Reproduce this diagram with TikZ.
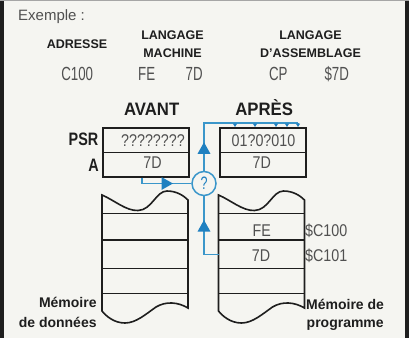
\documentclass[tikz,border=0pt]{standalone}
\usepackage{fontspec}
\setmainfont{Liberation Sans}
\newfontfamily\valfont{Liberation Sans}[FakeStretch=0.7]
\newfontfamily\regfont{Liberation Sans}[FakeStretch=0.84]
\newfontfamily\headfont{Liberation Sans}[FakeStretch=0.93]
\newfontfamily\namefont{Liberation Sans}[FakeStretch=0.8]
\usetikzlibrary{arrows.meta,decorations.markings}

\definecolor{paper}{HTML}{F5F5F1}
\definecolor{ink}{HTML}{1E1E1E}
\definecolor{greyink}{HTML}{505050}
\definecolor{wire}{HTML}{3A96CA}
\definecolor{tipblue}{HTML}{1F80C0}

\tikzset{
  hdr/.style={font=\bfseries\fontsize{12.5}{18}\selectfont, text=ink, inner sep=0, align=center},
  val/.style={font=\valfont\fontsize{19}{20}\selectfont, text=greyink, inner sep=0, anchor=base},
  reg/.style={font=\regfont\fontsize{17}{18}\selectfont, text=greyink, inner sep=0, anchor=base},
  title/.style={font=\headfont\bfseries\fontsize{18}{19}\selectfont, text=ink, inner sep=0, anchor=base},
  rname/.style={font=\namefont\bfseries\fontsize{18}{19}\selectfont, text=ink, inner sep=0, anchor=base east},
  memlab/.style={font=\bfseries\fontsize{14}{15}\selectfont, text=ink, inner sep=0},
  cell/.style={draw=ink, line width=1.6pt, minimum width=86pt, minimum height=24.5pt, inner sep=0, anchor=north west},
  outline/.style={draw=ink, line width=1.6pt},
  wireline/.style={draw=wire, line width=1.5pt},
  midtip/.style={postaction={decorate}, decoration={markings,
      mark=at position #1 with {\arrow[color=tipblue]{Triangle[width=12.5pt,length=11.5pt]}}}},
  tick/.style={draw=wire, line width=1.2pt, -{Triangle[width=4pt,length=3.5pt,color=tipblue]}},
  memstack/.pic={
    \draw[outline, fill=paper] (0,195) .. controls (12,200) and (24,211) .. (36,210.5)
      .. controls (50,210) and (54,191) .. (65,191)
      .. controls (75,191) and (82,196) .. (86,200) -- (86,308)
      .. controls (76,302) and (64,301) .. (54,307)
      .. controls (44,314) and (34,323) .. (23,323)
      .. controls (12,323) and (4,316) .. (0,311) -- cycle;
    \foreach \yy in {213.3,240,268.3,293.3} \draw[outline] (0,\yy) -- (86,\yy);
  }
}

\begin{document}
\begin{tikzpicture}[x=1pt, y=-1pt]
  % page and frame
  \fill[paper] (0,0) rectangle (409,338);
  \useasboundingbox (0,0) rectangle (409,338);
  \fill[ink] (0,0) rectangle (3.5,338);
  \fill[ink] (405,0) rectangle (409,338);
  \fill[black!35] (0,0) rectangle (409,1.2);

  % example header
  \node[font=\fontsize{15}{16}\selectfont, text=greyink, inner sep=0, anchor=base west] (ex) at (18,20) {Exemple :};
  \node[hdr, anchor=base] (hAdr) at (77,48.3) {ADRESSE};
  \node[hdr] (hMach) at (172.5,43.8) {LANGAGE\\MACHINE};
  \node[hdr] (hAsm) at (310.5,43.8) {LANGAGE\\D'ASSEMBLAGE};
  \node[val] (vAdr) at (77.2,80) {C100};
  \node[val] (vFE) at (146.7,80) {FE};
  \node[val] (v7D) at (194.2,80) {7D};
  \node[val] (vCP) at (278.3,80) {CP};
  \node[val] (vOp) at (336.7,80) {\$7D};

  % column titles
  \node[title] (avant) at (151.7,115) {AVANT};
  \node[title] (apres) at (264.2,115) {APRÈS};

  % registers before
  \node[cell] (psrL) at (102,127) {};
  \node[cell] (aL) at (102,151.5) {};
  \node[rname] (lPSR) at (98.5,145.8) {PSR};
  \node[rname] (lA) at (99,171) {A};
  \node[reg] (psrLv) at (153,146.5) {????????};
  \node[reg] (aLv) at (152.5,168.3) {7D};

  % registers after
  \node[cell] (psrR) at (219,127) {};
  \node[cell] (aR) at (219,151.5) {};
  \node[reg] (psrRv) at (263.5,146.5) {01?0?010};
  \node[reg] (aRv) at (261.7,168.3) {7D};

  % memories
  \pic at (102,0) {memstack};
  \pic at (218.5,0) {memstack};
  \node[reg] (mFE) at (261.7,236.7) {FE};
  \node[reg] (m7D) at (261,261.7) {7D};
  \node[reg, anchor=base west] (adr0) at (305,236.5) {\$C100};
  \node[reg, anchor=base west] (adr1) at (305,261.7) {\$C101};

  \node[memlab, anchor=base east] (mdA) at (96.8,307.5) {Mémoire};
  \node[memlab, anchor=base east] (mdB) at (96.8,327.8) {de données};
  \node[memlab, anchor=base west] (mpA) at (306,309) {Mémoire de};
  \node[memlab, anchor=base west] (mpB) at (306.5,327) {programme};

  % comparison unit
  \node[circle, draw=wire, line width=1.5pt, minimum size=24pt, inner sep=0, fill=paper,
        text=tipblue, font=\valfont\fontsize{18}{18}\selectfont] (cmp) at (204,183.5) {?};

  \coordinate (aTap) at (142,177.7);
  \coordinate (memTap) at (218.5,254.5);
  \coordinate (busEnd) at (298,123);

  \draw[wireline, midtip=36.8pt] (aTap) |- (cmp.west);
  \draw[wireline, midtip=49pt] (memTap) -| (cmp.south);
  \draw[wireline, midtip=28.5pt] (cmp.north) |- (busEnd);

  % flag bits written into the status register
  \foreach \tx in {235,255,276,287,298} {
    \coordinate (tk) at (\tx,123);
    \draw[tick] (tk) -- (tk |- psrR.north);
  }
\end{tikzpicture}
\end{document}
